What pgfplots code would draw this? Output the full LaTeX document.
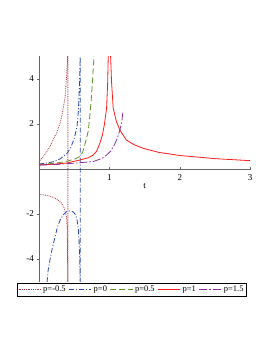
\documentclass[border=0pt]{standalone}
\usepackage{fontspec}
\setmainfont{Liberation Serif}
\usepackage{pgfplots}
\pgfplotsset{compat=1.18}
\definecolor{cbrown}{HTML}{A83A40}
\definecolor{cblue}{HTML}{2848B0}
\definecolor{cgreen}{HTML}{5C9428}
\definecolor{cred}{HTML}{FF1A1A}
\definecolor{cpurple}{HTML}{9030A0}
\begin{document}
\begin{tikzpicture}
\begin{axis}[
  x=70.4pt, y=22.5pt,
  xmin=0, xmax=3, ymin=-5, ymax=5,
  axis lines=middle,
  axis line style={-, gray!80!black},
  xtick={1,2,3}, ytick={-4,-2,0,2,4},
  major tick length=3pt,
  tick style={gray!80!black},
  tick label style={font=\fontsize{9}{10}\selectfont},
  /pgf/number format/assume math mode=true,
  xticklabel style={anchor=north, yshift=-1pt},
  legend columns=5,
  legend style={at={(0.44,-0.007)}, anchor=north, font=\fontsize{8.5}{10}\selectfont, inner sep=1pt, /tikz/every even column/.append style={column sep=1pt}},
  clip=true,
]
\addplot[color=cbrown, densely dotted, thick, forget plot] coordinates {
(0,0.32) (0.06,0.55) (0.1,0.72) (0.156,1.0) (0.2,1.3) (0.25,1.6) (0.3,2.04) (0.34,2.6) (0.37,3.2) (0.39,4.0) (0.41,5.2)
(0.41,-5.2) (0.405,-3.5) (0.4,-2.6) (0.39,-2.12) (0.36,-1.75) (0.32,-1.52) (0.27,-1.38) (0.23,-1.3) (0.15,-1.2) (0.07,-1.15) (0,-1.13)};
\addplot[color=cblue, dash pattern=on 5pt off 2pt on 1pt off 2pt, thick, forget plot] coordinates {
(0,0.22) (0.1,0.26) (0.2,0.32) (0.3,0.45) (0.4,0.7) (0.45,0.95) (0.5,1.35) (0.54,1.88) (0.56,2.6) (0.575,3.8) (0.586,5.2)
(0.586,-5.2) (0.575,-3.6) (0.56,-2.7) (0.54,-2.25) (0.52,-2.04) (0.49,-1.92) (0.46,-1.87) (0.42,-1.87) (0.39,-1.9) (0.34,-2.05) (0.30,-2.27) (0.26,-2.6) (0.23,-3.0) (0.19,-3.5) (0.156,-4.04) (0.13,-4.5) (0.11,-5.2)};
\addplot[color=cgreen, dash pattern=on 6pt off 3pt, thick, forget plot] coordinates {
(0,0.2) (0.1,0.22) (0.2,0.25) (0.3,0.29) (0.4,0.35) (0.5,0.43) (0.58,0.55) (0.62,0.75) (0.67,1.29) (0.7,1.7) (0.72,2.3) (0.74,3.0) (0.76,3.9) (0.785,5.2)};
\addplot[color=cred, thick, forget plot] coordinates {
(0,0.18) (0.2,0.21) (0.4,0.27) (0.58,0.4) (0.7,0.5) (0.77,0.62) (0.82,0.8) (0.865,1.15) (0.9,1.5) (0.93,2.0) (0.96,2.7) (0.975,3.8) (0.985,5.2)};
\addplot[color=cred, thick, forget plot] coordinates {
(1.015,5.2) (1.03,3.9) (1.054,2.7) (1.1,2.1) (1.15,1.73) (1.24,1.29) (1.35,1.08) (1.48,0.92) (1.7,0.74) (2,0.6) (2.5,0.46) (3,0.37)};
\addplot[color=cpurple, dash pattern=on 8pt off 2pt on 1.5pt off 2pt, thick, forget plot] coordinates {
(0,0.17) (0.3,0.21) (0.58,0.28) (0.77,0.33) (0.9,0.48) (0.96,0.62) (1.02,0.8) (1.07,1.07) (1.11,1.35) (1.15,1.73) (1.18,2.2) (1.19,2.5)};
\addlegendimage{legend image code/.code={\draw[draw=cbrown, densely dotted, thick] (0cm,0cm) -- (0.78cm,0cm);}}
\addlegendentry{p=-0.5}
\addlegendimage{legend image code/.code={\draw[draw=cblue, dash pattern=on 5pt off 2pt on 1pt off 2pt, thick] (0cm,0cm) -- (0.78cm,0cm);}}
\addlegendentry{p=0}
\addlegendimage{legend image code/.code={\draw[draw=cgreen, dash pattern=on 6pt off 3pt, thick] (0cm,0cm) -- (0.78cm,0cm);}}
\addlegendentry{p=0.5}
\addlegendimage{legend image code/.code={\draw[draw=cred, thick] (0cm,0cm) -- (0.78cm,0cm);}}
\addlegendentry{p=1}
\addlegendimage{legend image code/.code={\draw[draw=cpurple, dash pattern=on 8pt off 2pt on 1.5pt off 2pt, thick] (0cm,0cm) -- (0.78cm,0cm);}}
\addlegendentry{p=1.5}
\coordinate (O) at (axis cs:0,0);
\node[font=\fontsize{9}{10}\selectfont] at (axis cs:1.5,-0.76) {t};
\node[font=\fontsize{9}{10}\selectfont] at (axis cs:-0.1,2.4) {β};
\end{axis}
\pgfresetboundingbox
\path (O) ++(-39pt,-184pt) rectangle ++(273pt,353pt);
\end{tikzpicture}
\end{document}
